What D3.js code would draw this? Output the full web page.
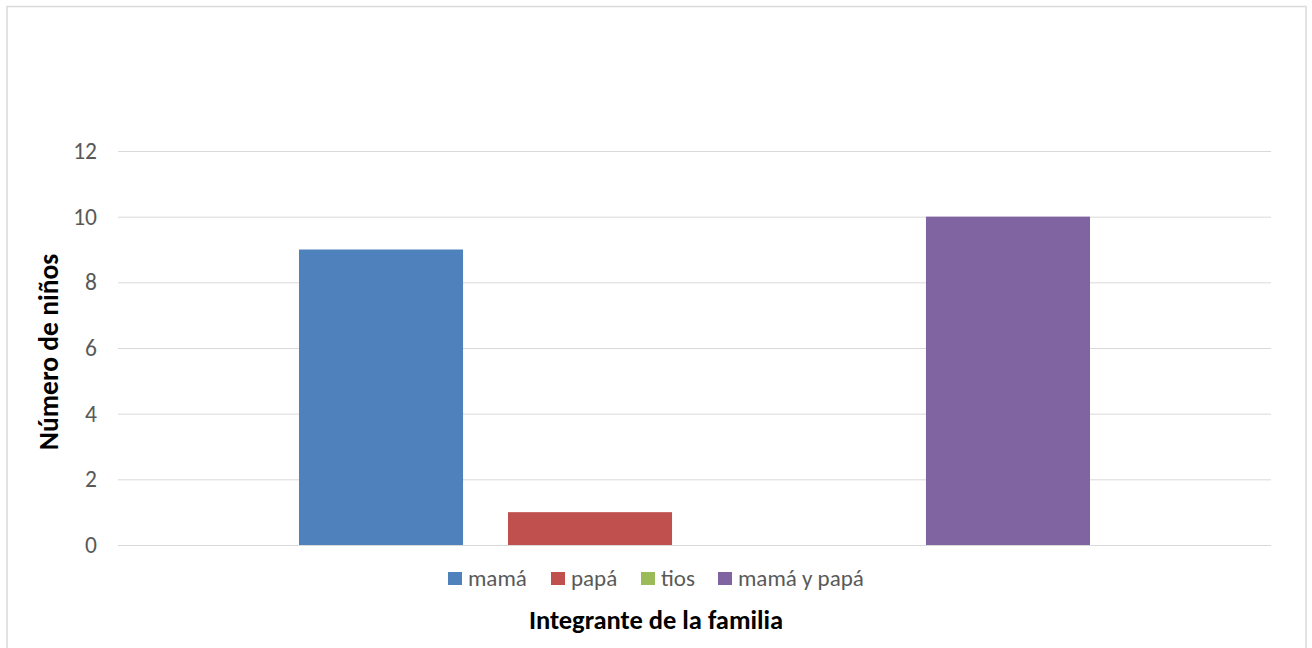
<!DOCTYPE html>
<html><head><meta charset="utf-8">
<script src="https://cdn.jsdelivr.net/npm/d3@7"></script>
<style>body{margin:0;background:#fff}svg{display:block;font-family:Carlito,Lato,"Open Sans",sans-serif}</style>
</head><body>
<svg id="c" width="1312" height="648"></svg>
<script>
const categories = ["Integrante"];
const seriesNames = ["mamá", "papá", "tios", "mamá y papá"];
const seriesValues = [9, 1, 0, 10];
const seriesColors = ["#4f81bd", "#c0504d", "#9bbb59", "#8064a2"];
const yTicks = [0, 2, 4, 6, 8, 10, 12];
const xTitle = "Integrante de la familia";
const yTitle = "Número de niños";

(function () {
const svg = d3.select("#c");
svg.append("rect").attr("x", 7).attr("y", 6.5).attr("width", 1299).attr("height", 660)
  .attr("fill", "#fff").attr("stroke", "#d9d9d9").attr("stroke-width", 1.5);

const pLeft = 118, pRight = 1271, pTop = 151, pBottom = 545;
const y = d3.scaleLinear().domain([0, 12]).range([pBottom, pTop]);
const x0 = d3.scaleBand().domain(categories).range([pLeft, pRight]).paddingInner(0).paddingOuter(0.2288);
const x1 = d3.scaleBand().domain(seriesNames).range([0, x0.bandwidth()]).paddingInner(0.215).paddingOuter(0);

const yAxis = d3.axisLeft(y).tickValues(yTicks).tickSize(-(pRight - pLeft)).tickPadding(21);
const ga = svg.append("g").attr("transform", `translate(${pLeft},0)`).call(yAxis);
ga.select(".domain").remove();
ga.selectAll(".tick line").attr("stroke", "#d9d9d9").attr("stroke-width", 1);
ga.selectAll(".tick text").attr("fill", "#595959").attr("font-size", 23.5).attr("font-family", "Carlito,Lato,sans-serif");

const g = svg.append("g");
categories.forEach(c => {
  seriesNames.forEach((s, i) => {
    g.append("rect")
      .attr("x", x0(c) + x1(s))
      .attr("y", y(seriesValues[i]))
      .attr("width", x1.bandwidth())
      .attr("height", y(0) - y(seriesValues[i]))
      .attr("fill", seriesColors[i]);
  });
});

const legendX = [448, 551, 641, 718];
const lg = svg.append("g");
seriesNames.forEach((s, i) => {
  lg.append("rect").attr("x", legendX[i]).attr("y", 572).attr("width", 14).attr("height", 13).attr("fill", seriesColors[i]);
  lg.append("text").attr("x", legendX[i] + 20).attr("y", 586).attr("fill", "#595959").attr("font-size", 23).text(s);
});

svg.append("text").attr("x", 656).attr("y", 629).attr("text-anchor", "middle")
  .attr("font-size", 26.5).attr("font-weight", "bold").attr("fill", "#000").text(xTitle);
svg.append("text").attr("transform", "translate(58,352) rotate(-90)").attr("text-anchor", "middle")
  .attr("font-size", 27.5).attr("font-weight", "bold").attr("fill", "#000").text(yTitle);
})();
</script>
</body></html>
